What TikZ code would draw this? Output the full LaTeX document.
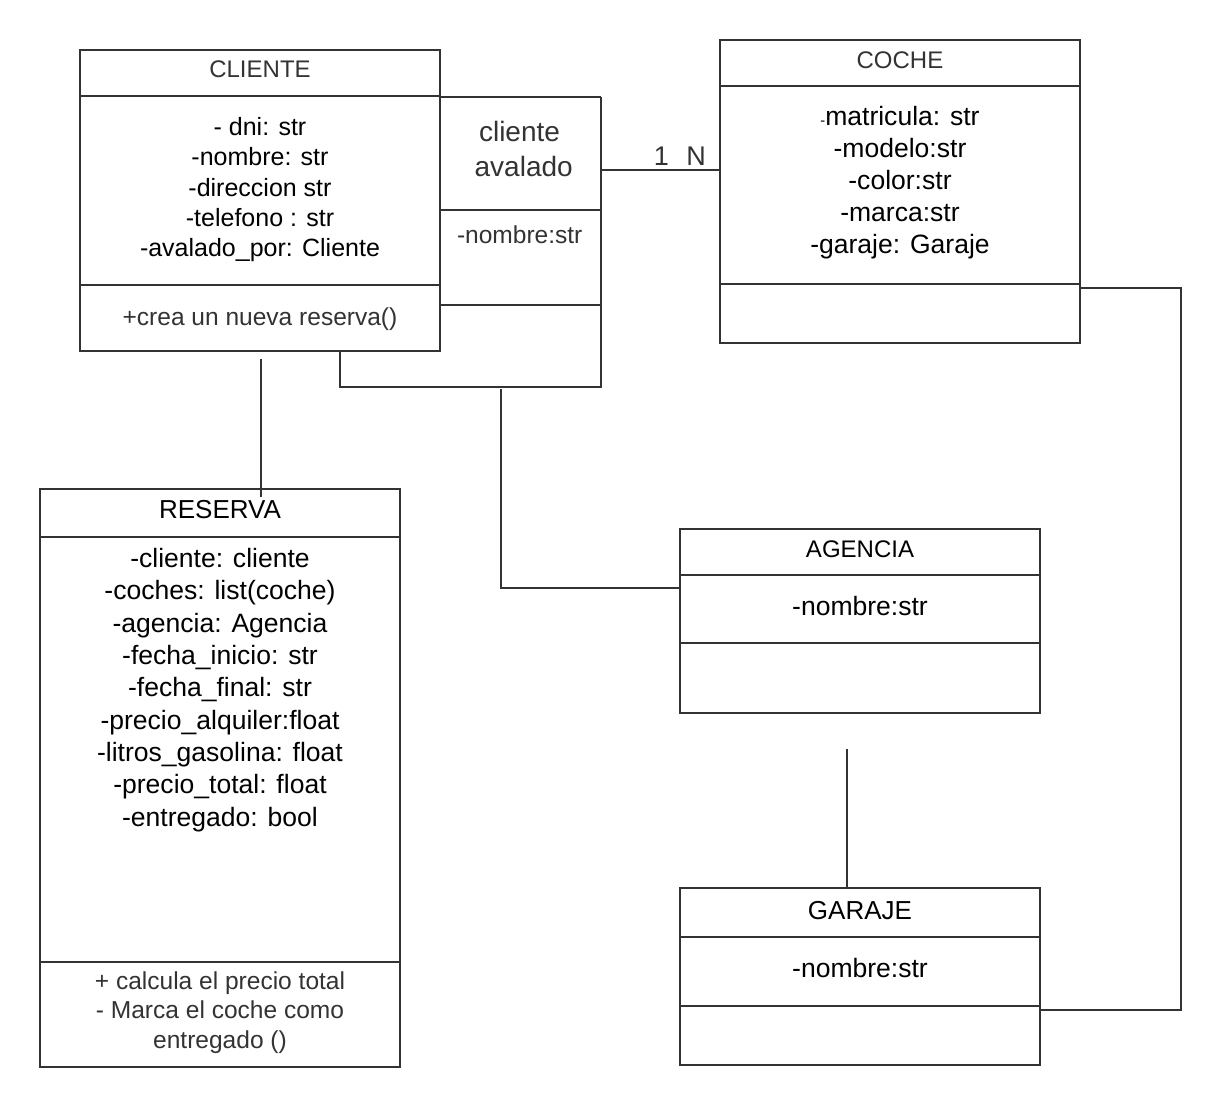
\documentclass[tikz,border=0pt]{standalone}
\usepackage{fontspec}
\setmainfont{Liberation Sans}
\usetikzlibrary{calc}
\definecolor{ink}{HTML}{333333}
\definecolor{soft}{HTML}{333333}
\begin{document}
\begin{tikzpicture}[x=0.75pt,y=-0.75pt,
  every node/.style={inner sep=0pt, outer sep=0pt},
  box/.style 2 args={draw=ink, line width=1.5pt, minimum width=#1*0.75pt,
    minimum height=#2*0.75pt, anchor=north west},
  rule/.style={draw=ink, line width=1.5pt},
  link/.style={draw=ink, line width=1.5pt},
  txt/.style={anchor=base, text=black},
  ttl/.style={txt, font=\fontsize{18pt}{21pt}\selectfont},
  bigttl/.style={txt, font=\fontsize{19.5pt}{23pt}\selectfont},
  attr/.style={txt, font=\fontsize{19.9pt}{24pt}\selectfont},
  cattr/.style={txt, font=\fontsize{18.75pt}{22pt}\selectfont},
  meth/.style={txt, text=soft, font=\fontsize{18.4pt}{22pt}\selectfont},
  assoc/.style={txt, text=soft, font=\fontsize{21pt}{25pt}\selectfont},
  mult/.style={txt, text=soft, font=\fontsize{20.25pt}{24pt}\selectfont}]

\useasboundingbox[fill=white] (0,0) rectangle (1222,1107);

% ---------- CLIENTE ----------
\node[box={360}{301}] (cliente) at (80,50) {};
\draw[rule] (cliente.west |- 0,96) -- (cliente.east |- 0,96);
\draw[rule] (cliente.west |- 0,285) -- (cliente.east |- 0,285);
\node[ttl, text=soft] (cliente-t) at (260,77.7) {CLIENTE};
\foreach \t [count=\i from 0] in {- dni: str, -nombre: str, -direccion str,
    -telefono : str, -avalado\_por: Cliente}
  \node[cattr] (cliente-a\i) at (260,{135.5+30.25*\i}) {\t};
\node[meth] (cliente-m) at (260,325) {+crea un nueva reserva()};

% ---------- association class "cliente avalado" ----------
\node[anchor=north west, minimum width=161*0.75pt, minimum height=208*0.75pt] (aval) at (440,97) {};
\draw[rule] (aval.north west) -- (aval.north east);
\draw[rule] (aval.west |- 0,210) -- (aval.east |- 0,210);
\draw[rule] (aval.south west) -- (aval.south east);
\node[assoc] (aval-t1) at (519.5,141.7) {cliente};
\node[assoc] (aval-t2) at (523.7,176) {avalado};
\node[meth, anchor=base west] (aval-a) at (457,243.3) {-nombre:str};

% self link of CLIENTE, closing the association class
\coordinate (self-a) at (340,387);
\coordinate (self-b) at (601,387);
\draw[link] (cliente.south -| self-a) -- (self-a) -- (self-b) -- (aval.north east);

% ---------- COCHE ----------
\node[box={360}{303}] (coche) at (720,40) {};
\draw[rule] (coche.west |- 0,85.5) -- (coche.east |- 0,85.5);
\draw[rule] (coche.west |- 0,284) -- (coche.east |- 0,284);
\node[ttl, text=soft] (coche-t) at (900,68.3) {COCHE};
\node[attr] (coche-a0) at (900,125) {{\fontsize{11pt}{12pt}\selectfont -}matricula: str};
\foreach \t [count=\i from 1] in {-modelo:str, -color:str, -marca:str, -garaje: Garaje}
  \node[attr] (coche-a\i) at (900,{125+32.1*\i}) {\t};

% link cliente avalado -- COCHE
\coordinate (av-out) at (601,170);
\draw[link] (av-out) -- (av-out -| coche.west);
\node[mult] (mult-1) at (661.5,165) {1};
\node[mult] (mult-n) at (696,165) {N};

% ---------- RESERVA ----------
\node[box={360}{578}] (reserva) at (40,489) {};
\draw[rule] (reserva.west |- 0,537) -- (reserva.east |- 0,537);
\draw[rule] (reserva.west |- 0,962) -- (reserva.east |- 0,962);
\node[bigttl] (reserva-t) at (220,518.3) {RESERVA};
\foreach \t [count=\i from 0] in {-cliente: cliente, -coches: list(coche),
    -agencia: Agencia, -fecha\_inicio: str, -fecha\_final: str,
    -precio\_alquiler:float, -litros\_gasolina: float, -precio\_total: float,
    -entregado: bool}
  \node[attr] (reserva-a\i) at (220,{567.3+32.35*\i}) {\t};
\foreach \t [count=\i from 0] in {+ calcula el precio total,
    - Marca el coche como, entregado ()}
  \node[meth] (reserva-m\i) at (220,{989.3+29.6*\i}) {\t};

% link CLIENTE -- RESERVA
\coordinate (cr-top) at (261,359);
\draw[link] (cr-top) -- ($(cr-top |- reserva.north)+(0,8)$);

% ---------- AGENCIA ----------
\node[box={360}{184}] (agencia) at (680,529) {};
\draw[rule] (agencia.west |- 0,575) -- (agencia.east |- 0,575);
\draw[rule] (agencia.west |- 0,643) -- (agencia.east |- 0,643);
\node[ttl] (agencia-t) at (860,557) {AGENCIA};
\node[attr] (agencia-a) at (860,615.5) {-nombre:str};

% link association -- AGENCIA
\coordinate (ag-top) at (501,389);
\draw[link] (ag-top) |- (agencia.west |- 0,588);

% ---------- GARAJE ----------
\node[box={360}{177}] (garaje) at (680,888) {};
\draw[rule] (garaje.west |- 0,937) -- (garaje.east |- 0,937);
\draw[rule] (garaje.west |- 0,1006) -- (garaje.east |- 0,1006);
\node[bigttl] (garaje-t) at (860,919) {GARAJE};
\node[attr] (garaje-a) at (860,977) {-nombre:str};

% link AGENCIA -- GARAJE
\coordinate (gj-top) at (847,749);
\draw[link] (gj-top) -- (gj-top |- garaje.north);

% link COCHE -- GARAJE
\coordinate (cg-a) at (1181,288);
\coordinate (cg-b) at (1181,1010);
\draw[link] (coche.east |- cg-a) -- (cg-a) -- (cg-b) -- (garaje.east |- cg-b);

\end{tikzpicture}
\end{document}
